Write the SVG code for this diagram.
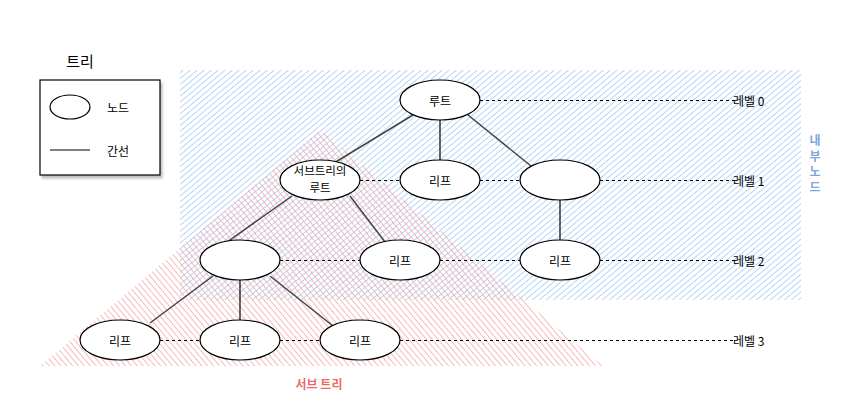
<svg xmlns="http://www.w3.org/2000/svg" width="849" height="409" viewBox="0 0 849 409">
<defs>
<pattern id="hb" patternUnits="userSpaceOnUse" width="4.5" height="4.5" patternTransform="rotate(50)">
<line x1="0" y1="0" x2="0" y2="4.5" stroke="#a3c9f5" stroke-width="1.8"/>
</pattern>
<pattern id="hr" patternUnits="userSpaceOnUse" width="4.5" height="4.5" patternTransform="rotate(-40)">
<line x1="0" y1="0" x2="0" y2="4.5" stroke="#f6a6a6" stroke-width="1.8"/>
</pattern>
<filter id="sh" x="-10%" y="-10%" width="130%" height="130%">
<feDropShadow dx="2" dy="3" stdDeviation="1.2" flood-color="#000" flood-opacity="0.25"/>
</filter>
</defs>
<style>
text{font-family:"Noto Sans CJK KR","Noto Sans",sans-serif;font-size:12px;fill:#000;}
.n ellipse{fill:#fff;stroke:#000;stroke-width:1.2;}
.e{stroke:#444;stroke-width:1.5;fill:none;}
.v{stroke:#000;stroke-width:1.2;}
.d{stroke:#000;stroke-width:1;stroke-dasharray:3 3;fill:none;}
.c{text-anchor:middle;dominant-baseline:central;}
</style>
<g id="regions">
<rect x="180" y="70" width="621" height="230" fill="url(#hb)" opacity="0.85"/>
<polygon points="320,130 40,366 603,366" fill="url(#hr)" opacity="0.85"/>
</g>
<g id="connectors">
<line class="e" x1="413" y1="115" x2="334" y2="163"/>
<line class="v" x1="440" y1="120" x2="440" y2="160"/>
<line class="e" x1="468" y1="115" x2="531" y2="166"/>
<line class="e" x1="292" y1="196" x2="220" y2="247"/>
<line class="e" x1="350" y1="196" x2="385" y2="242"/>
<line class="v" x1="560" y1="200" x2="560" y2="240"/>
<line class="e" x1="213" y1="276" x2="150" y2="323"/>
<line class="v" x1="240" y1="280" x2="240" y2="320"/>
<line class="e" x1="270" y1="276" x2="333" y2="326"/>
<line class="d" x1="480" y1="100.5" x2="735" y2="100.5"/>
<line class="d" x1="360" y1="180.5" x2="400" y2="180.5"/>
<line class="d" x1="480" y1="180.5" x2="520" y2="180.5"/>
<line class="d" x1="600" y1="180.5" x2="735" y2="180.5"/>
<line class="d" x1="280" y1="260.5" x2="360" y2="260.5"/>
<line class="d" x1="440" y1="260.5" x2="520" y2="260.5"/>
<line class="d" x1="600" y1="260.5" x2="735" y2="260.5"/>
<line class="d" x1="160" y1="340.5" x2="200" y2="340.5"/>
<line class="d" x1="280" y1="340.5" x2="320" y2="340.5"/>
<line class="d" x1="400" y1="340.5" x2="735" y2="340.5"/>
</g>
<g id="root" class="n"><ellipse cx="440" cy="100" rx="40" ry="20"/><text class="c" x="440" y="100">루트</text></g>
<g id="subroot" class="n"><ellipse cx="320" cy="180" rx="40" ry="20"/><text x="320" y="175" text-anchor="middle" style="font-size:11.5px"><tspan x="320">서브트리의</tspan><tspan x="320" dy="17">루트</tspan></text></g>
<g id="leaf1" class="n"><ellipse cx="440" cy="180" rx="40" ry="20"/><text class="c" x="440" y="180">리프</text></g>
<g id="inner1" class="n"><ellipse cx="560" cy="180" rx="40" ry="20"/></g>
<g id="inner2" class="n"><ellipse cx="240" cy="260" rx="40" ry="20"/></g>
<g id="leaf2" class="n"><ellipse cx="400" cy="260" rx="40" ry="20"/><text class="c" x="400" y="260">리프</text></g>
<g id="leaf3" class="n"><ellipse cx="560" cy="260" rx="40" ry="20"/><text class="c" x="560" y="260">리프</text></g>
<g id="leaf4" class="n"><ellipse cx="120" cy="340" rx="40" ry="20"/><text class="c" x="120" y="340">리프</text></g>
<g id="leaf5" class="n"><ellipse cx="240" cy="340" rx="40" ry="20"/><text class="c" x="240" y="340">리프</text></g>
<g id="leaf6" class="n"><ellipse cx="360" cy="340" rx="40" ry="20"/><text class="c" x="360" y="340">리프</text></g>
<g id="levels">
<text x="733" y="100" dominant-baseline="central">레벨 0</text>
<text x="733" y="180" dominant-baseline="central">레벨 1</text>
<text x="733" y="260" dominant-baseline="central">레벨 2</text>
<text x="733" y="340" dominant-baseline="central">레벨 3</text>
</g>
<g id="label-internal">
<text x="815" y="145" text-anchor="middle" style="fill:#7ea6e0;font-weight:bold"><tspan x="815">내</tspan><tspan x="815" dy="15.7">부</tspan><tspan x="815" dy="15.7">노</tspan><tspan x="815" dy="15.7">드</tspan></text>
</g>
<g id="label-subtree"><text class="c" x="319" y="383" style="fill:#ea6b66;font-weight:bold">서브 트리</text></g>
<g id="legend">
<text class="c" x="80" y="60" style="font-size:15px">트리</text>
<rect x="40" y="80" width="120" height="95" fill="#fff" stroke="#000" stroke-width="1.2" filter="url(#sh)"/>
<ellipse cx="70" cy="107" rx="20" ry="12" fill="#fff" stroke="#000" stroke-width="1.2"/>
<text x="107" y="107" dominant-baseline="central">노드</text>
<line x1="50" y1="150" x2="90" y2="150" stroke="#000" stroke-width="1"/>
<text x="107" y="150" dominant-baseline="central">간선</text>
</g>
</svg>
